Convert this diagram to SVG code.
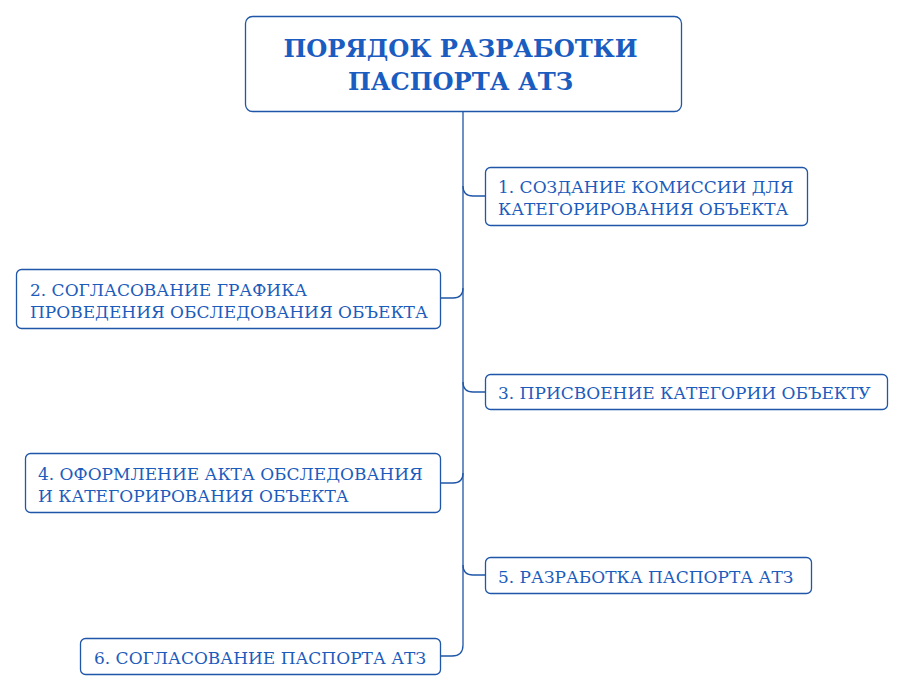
<svg xmlns="http://www.w3.org/2000/svg" width="905" height="692" viewBox="0 0 905 692">
<style>
.box{fill:#fff;stroke:#1f56a8;stroke-width:1.3}
.t{font-family:"DejaVu Serif","Liberation Serif",serif;font-size:17px;fill:#1c5cbc}
.h{font-family:"DejaVu Serif","Liberation Serif",serif;font-size:24.2px;font-weight:bold;fill:#1a5cbf;text-anchor:middle}
.c{fill:none;stroke:#1f56a8;stroke-width:1.3}
</style>
<rect width="905" height="692" fill="#fff"/>
<g id="connectors">
<path class="c" d="M463,111 V645 Q463,656 452,656 H441"/>
<path class="c" d="M463,186 Q463,196 473,196 H485"/>
<path class="c" d="M463,288 Q463,298 453,298 H441"/>
<path class="c" d="M463,382 Q463,392 473,392 H485"/>
<path class="c" d="M463,473 Q463,483 453,483 H441"/>
<path class="c" d="M463,565 Q463,575 473,575 H485"/>
</g>
<g id="title">
<rect class="box" x="245.5" y="16.5" width="436" height="95" rx="7"/>
<text class="h" x="460.5" y="57">ПОРЯДОК РАЗРАБОТКИ</text>
<text class="h" x="460.5" y="90">ПАСПОРТА АТЗ</text>
</g>
<g id="n1">
<rect class="box" x="485.5" y="167.5" width="322" height="58" rx="5"/>
<text class="t" x="498" y="193">1. СОЗДАНИЕ КОМИССИИ ДЛЯ</text>
<text class="t" x="498" y="215">КАТЕГОРИРОВАНИЯ ОБЪЕКТА</text>
</g>
<g id="n2">
<rect class="box" x="16.5" y="269.5" width="424" height="59" rx="5"/>
<text class="t" x="30" y="296">2. СОГЛАСОВАНИЕ ГРАФИКА</text>
<text class="t" x="30" y="318">ПРОВЕДЕНИЯ ОБСЛЕДОВАНИЯ ОБЪЕКТА</text>
</g>
<g id="n3">
<rect class="box" x="485.5" y="374.5" width="402" height="35" rx="5"/>
<text class="t" x="498" y="399">3. ПРИСВОЕНИЕ КАТЕГОРИИ ОБЪЕКТУ</text>
</g>
<g id="n4">
<rect class="box" x="25.5" y="453.5" width="415" height="59" rx="5"/>
<text class="t" x="38" y="480">4. ОФОРМЛЕНИЕ АКТА ОБСЛЕДОВАНИЯ</text>
<text class="t" x="38" y="502">И КАТЕГОРИРОВАНИЯ ОБЪЕКТА</text>
</g>
<g id="n5">
<rect class="box" x="485.5" y="557.5" width="326" height="36" rx="5"/>
<text class="t" x="498" y="583">5. РАЗРАБОТКА ПАСПОРТА АТЗ</text>
</g>
<g id="n6">
<rect class="box" x="80.5" y="638.5" width="360" height="36" rx="5"/>
<text class="t" x="94" y="664">6. СОГЛАСОВАНИЕ ПАСПОРТА АТЗ</text>
</g>
</svg>
